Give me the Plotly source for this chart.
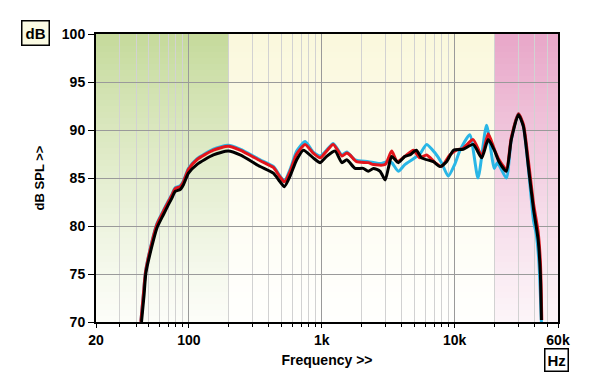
import numpy as np
import plotly.graph_objects as go

# ---------------- data ----------------
black_f = [44, 46, 47.5, 52.7, 57.5, 64.4, 70, 74.5, 78.9, 86, 91, 99.3, 114.8, 153, 198,
           243, 344, 432, 486, 524, 578, 648, 728, 862, 973, 1088, 1260, 1417, 1544, 1780,
           2050, 2240, 2450, 2750, 3000, 3170, 3360, 3770, 4220, 4600, 5150, 5640, 6920,
           7750, 8700, 9820, 11600, 13800, 16000, 17900, 19900, 21600, 24500, 26700,
           30200, 32900, 35900, 39300, 42500, 44200, 45000]
black_db = [70, 72.8, 75.1, 77.9, 79.8, 81.2, 82.2, 82.9, 83.6, 83.8, 84.3, 85.5, 86.4, 87.4, 87.8,
            87.4, 86.2, 85.5, 84.6, 84.1, 85.2, 86.9, 87.9, 87.1, 86.6, 87.25, 87.8, 86.6, 86.9, 86.0,
            86.0, 85.7, 86.0, 85.7, 84.8, 86.0, 87.25, 86.6, 87.25, 87.4, 87.9, 87.1, 86.7,
            86.2, 86.7, 87.9, 88.0, 88.5, 87.1, 89.0, 87.9, 86.7, 85.7, 89.0,
            91.6, 90.4, 86.2, 81.7, 78.6, 75.0, 70.2]

red_f = [43.5, 45.5, 47.2, 52.5, 57.3, 64.2, 70, 74.5, 78.9, 86, 91, 99.3, 114.8, 153, 198,
         243, 344, 432, 486, 524, 578, 648, 750, 862, 973, 1088, 1220, 1417, 1544, 1630, 1830,
         2240, 2450, 3000, 3360, 3700, 4220, 4900, 5480, 6160, 7130, 7970, 9200, 10300,
         11600, 13800, 16000, 17900, 19900, 21600, 24500, 26700, 30200, 32900, 35900,
         39300, 42500, 44300, 45300]
red_db = [70, 72.9, 75.2, 78.2, 80.1, 81.5, 82.5, 83.2, 83.9, 84.1, 84.6, 85.9, 86.9, 87.9, 88.3,
          87.9, 86.8, 86.1, 85.1, 84.6, 85.7, 87.5, 88.5, 87.6, 87.1, 87.8, 88.5, 87.3, 87.6, 87.4, 86.7,
          86.6, 86.4, 86.4, 87.8, 86.7, 87.25, 87.9, 87.1, 87.4, 86.6, 86.2, 87.4, 87.9,
          88.1, 89.0, 87.3, 89.6, 88.0, 86.9, 85.9, 89.2, 91.7, 90.6, 86.8,
          82.3, 79.4, 76.0, 70.2]

cyan_f = [43.5, 45.5, 47.2, 52.5, 57.3, 64.2, 70, 74.5, 78.9, 86, 91, 99.3, 114.8, 153, 198,
          243, 344, 432, 486, 524, 578, 648, 750, 862, 973, 1088, 1220, 1417, 1544, 1780,
          2240, 2750, 3100, 3360, 3770, 4220, 4900, 5480, 6160, 7130, 7970, 8950, 10000,
          11000, 13000, 15000, 17400, 19900, 21000, 24500, 26700, 30200, 32900, 35900,
          39300, 41000, 43000, 45000]
cyan_db = [70, 73.0, 75.3, 78.3, 80.2, 81.6, 82.6, 83.3, 84.0, 84.2, 84.7, 86.0, 87.0, 88.0, 88.4,
           88.0, 86.9, 86.2, 85.2, 84.7, 85.9, 87.8, 88.8, 87.7, 87.3, 87.9, 88.6, 87.4, 87.7, 86.9,
           86.7, 86.5, 86.7, 86.6, 85.7, 86.4, 87.0, 87.5, 88.5, 87.6, 86.6, 85.2, 86.4,
           87.9, 89.5, 85.0, 90.5, 86.0, 86.6, 85.0, 89.0, 91.7, 90.4, 86.0,
           80.5, 79.3, 76.5, 70.0]

x_tickvals = [20, 100, 1000, 10000, 60000]
x_ticktext = ["20", "100", "1k", "10k", "60k"]
x_minor = [30, 40, 50, 60, 70, 80, 90, 200, 300, 400, 500, 600, 700, 800, 900,
           2000, 3000, 4000, 5000, 6000, 7000, 8000, 9000, 20000, 30000, 40000, 50000]
y_tickvals = [70, 75, 80, 85, 90, 95, 100]

# background zones: edges (Hz), top colour, bottom colour
zone_edges = [20, 200, 20000, 60000]
zone_top = [(197, 218, 155), (250, 248, 220), (232, 166, 200)]
zone_bot = [(252, 253, 248), (255, 255, 253), (252, 244, 248)]

Y0, Y1 = 70, 100

fig = go.Figure()

# gradient bands drawn as shapes below the grid
nb = 48
shapes = []
for i in range(3):
    for k in range(nb):
        ya = Y0 + (Y1 - Y0) * k / nb
        yb = Y0 + (Y1 - Y0) * (k + 1) / nb
        t = ((k + 0.5) / nb) ** 1.2
        c = tuple(int(round(zone_bot[i][j] + (zone_top[i][j] - zone_bot[i][j]) * t)) for j in range(3))
        shapes.append(dict(type="rect", xref="x", yref="y", x0=zone_edges[i], x1=zone_edges[i + 1],
                           y0=ya, y1=yb, fillcolor="rgb(%d,%d,%d)" % c, line=dict(width=0),
                           layer="below"))

fig.add_trace(go.Scatter(x=cyan_f, y=cyan_db, mode="lines", line=dict(color="#29b6e6", width=3, shape="spline", smoothing=0.6),
                         hoverinfo="skip", showlegend=False))
fig.add_trace(go.Scatter(x=red_f, y=red_db, mode="lines", line=dict(color="#e3141b", width=3, shape="spline", smoothing=0.6),
                         hoverinfo="skip", showlegend=False))
fig.add_trace(go.Scatter(x=black_f, y=black_db, mode="lines", line=dict(color="#000000", width=3, shape="spline", smoothing=0.6),
                         hoverinfo="skip", showlegend=False))

font_b = dict(family="Liberation Sans, Arial, sans-serif", size=14, color="black", weight="bold")

fig.update_layout(
    width=600, height=389,
    margin=dict(l=96, r=42, t=34, b=67),
    paper_bgcolor="white", plot_bgcolor="white",
    shapes=shapes,
    xaxis=dict(type="log", range=[np.log10(20), np.log10(60000)],
               tickvals=x_tickvals, ticktext=x_ticktext, tickfont=font_b,
               ticks="outside", ticklen=4, tickcolor="black", tickwidth=1,
               showgrid=True, gridcolor="#9a9a9a", gridwidth=1,
               minor=dict(tickmode="array", tickvals=x_minor, ticks="outside", ticklen=3,
                          tickcolor="black", showgrid=True, gridcolor="#d2d2d2", gridwidth=1),
               showline=True, linecolor="black", linewidth=2, mirror=True,
               title=dict(text="Frequency >>", font=font_b, standoff=8),
               zeroline=False),
    yaxis=dict(range=[Y0, Y1], tickvals=y_tickvals, tickfont=font_b,
               ticks="outside", ticklen=6, tickcolor="black", tickwidth=1,
               showgrid=True, gridcolor="#9a9a9a", gridwidth=1,
               showline=True, linecolor="black", linewidth=2, mirror=True,
               title=dict(text="dB SPL >>", font=dict(family="Liberation Sans, Arial, sans-serif", size=13,
                                                      color="black", weight="bold"), standoff=14),
               zeroline=False),
    annotations=[
        dict(text="dB", xref="paper", yref="paper", x=-0.13, y=1.003, xanchor="center", yanchor="middle",
             showarrow=False, font=dict(family="Liberation Sans, Arial, sans-serif", size=15, color="black", weight="bold"),
             bgcolor="#fbfbe3", bordercolor="black", borderwidth=1.5, borderpad=3),
        dict(text="Hz", xref="paper", yref="paper", x=0.996, y=-0.132, xanchor="center", yanchor="middle",
             showarrow=False, font=dict(family="Liberation Sans, Arial, sans-serif", size=15, color="black", weight="bold"),
             bgcolor="white", bordercolor="black", borderwidth=1.5, borderpad=2),
    ],
)

fig.write_html("out.html", config={"displayModeBar": False},
               post_script="document.body.style.margin='0px';document.body.style.overflow='hidden';")
